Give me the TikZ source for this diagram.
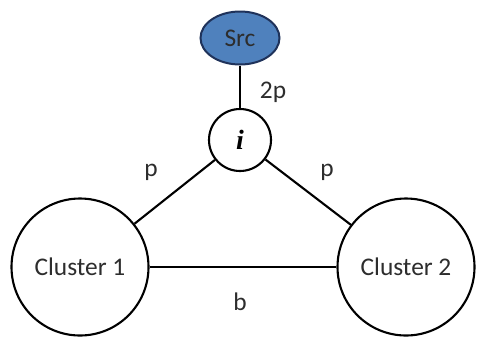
\documentclass[tikz,border=0pt]{standalone}
\usepackage{fontspec}
\setmainfont{Carlito}
\newfontfamily\hubfont{Liberation Serif}
\usetikzlibrary{shapes.geometric}
\definecolor{srcfill}{RGB}{79,129,189}
\definecolor{srcline}{RGB}{31,50,90}
\definecolor{inktext}{RGB}{45,45,45}
\begin{document}
\begin{tikzpicture}[x=1bp,y=-1bp,
  link/.style={line width=2.1bp,draw=black},
  bignode/.style={circle,draw=black,line width=2.1bp,minimum size=137bp,inner sep=0pt,text=inktext,font=\fontsize{25.5}{30}\selectfont},
  hubnode/.style={circle,draw=black,line width=2.1bp,minimum size=62bp,inner sep=0pt,font=\hubfont\fontsize{28}{32}\selectfont},
  srcnode/.style={ellipse,draw=srcline,fill=srcfill,line width=2bp,minimum width=79bp,minimum height=53bp,inner sep=0pt,text=inktext,font=\fontsize{25.5}{30}\selectfont},
  lbl/.style={font=\fontsize{25.5}{30}\selectfont,text=inktext,inner sep=0pt}]
\useasboundingbox (0,0) rectangle (478,337);
\node[srcnode] (src) at (240,38) {Src};
\node[hubnode] (hub) at (240,140) {\textbf{\textit{i}}};
\node[bignode] (c1) at (80,267) {Cluster 1};
\node[bignode] (c2) at (406,267) {Cluster 2};
\draw[link] (src) -- (hub);
\draw[link] (hub) -- (c1);
\draw[link] (hub) -- (c2);
\draw[link] (c1) -- (c2);
\node[lbl] (l2p) at (273,92) {2p};
\node[lbl] (lp1) at (151,172) {p};
\node[lbl] (lp2) at (327,172) {p};
\node[lbl] (lb) at (240,302) {b};
\end{tikzpicture}
\end{document}
